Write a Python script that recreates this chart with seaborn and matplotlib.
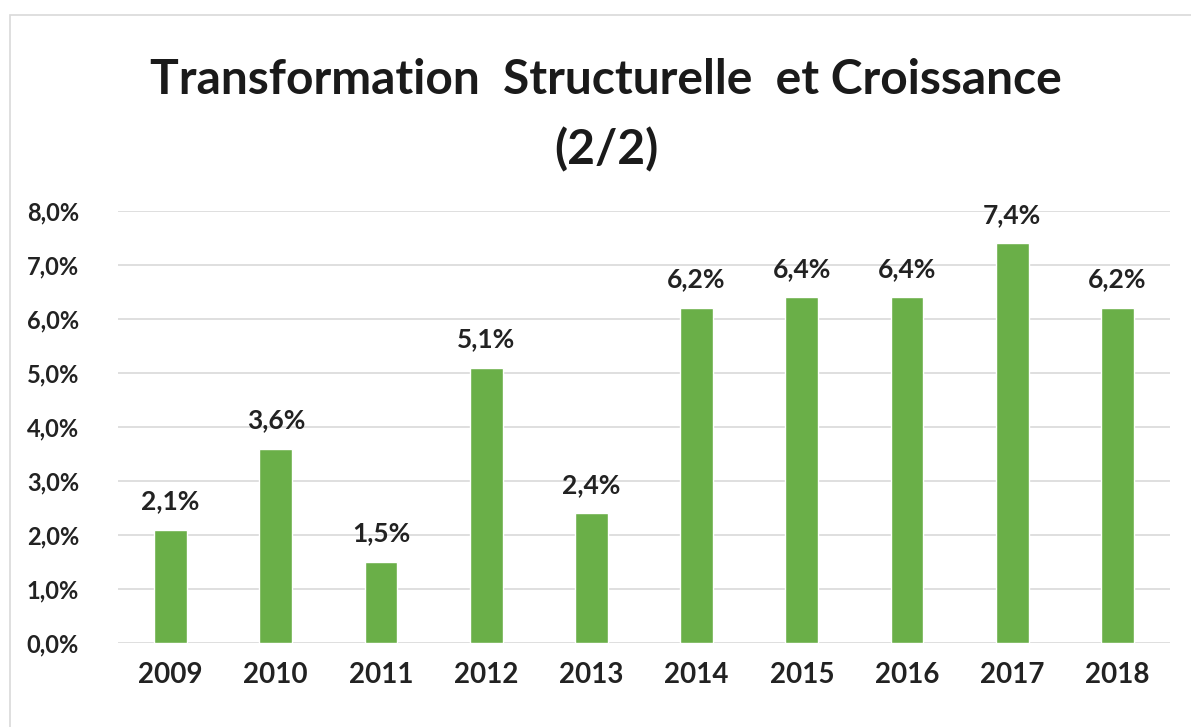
import matplotlib
matplotlib.use("Agg")
import matplotlib.pyplot as plt
import seaborn as sns
import pandas as pd
from matplotlib.patches import Rectangle

years = ["2009", "2010", "2011", "2012", "2013", "2014", "2015", "2016", "2017", "2018"]
growth = [2.1, 3.6, 1.5, 5.1, 2.4, 6.2, 6.4, 6.4, 7.4, 6.2]
yticks = [0, 1, 2, 3, 4, 5, 6, 7, 8]
title_lines = ["Transformation  Structurelle  et Croissance", "(2/2)"]

sns.set_theme(style="white")
plt.rcParams['font.family'] = ['Lato', 'DejaVu Sans']

df = pd.DataFrame({"year": years, "growth": growth})

fig = plt.figure(figsize=(11.91, 7.27), dpi=100)
fig.patches.append(Rectangle((10/1191, -0.05), 1.1, 1 - 15/727 + 0.05, transform=fig.transFigure,
                             fill=False, edgecolor="#d9d9d9", linewidth=1.2))
ax = fig.add_axes([118/1191, 1 - 643/727, 1052/1191, 432/727])

sns.barplot(data=df, x="year", y="growth", color="#6aaf48", width=0.31, ax=ax,
            saturation=1)

ax.set_ylim(0, 8)
ax.set_xlim(-0.5, 9.5)
ax.set_yticks(yticks)
ax.set_yticklabels([f"{v:.1f}%".replace(".", ",") for v in yticks])
ax.grid(axis="y", color="#d9d9d9", linewidth=1.2)
ax.set_axisbelow(True)
for s in ax.spines.values():
    s.set_visible(False)
ax.set_xlabel("")
ax.set_ylabel("")
ax.tick_params(axis="y", labelsize=17, pad=28, colors="#222222", length=0)
ax.tick_params(axis="x", labelsize=20, pad=14, colors="#222222", length=0)
for lbl in ax.get_yticklabels() + ax.get_xticklabels():
    lbl.set_fontweight("bold")

for c in ax.containers:
    ax.bar_label(c, labels=[f"{v:.1f}%".replace(".", ",") for v in growth],
                 padding=12, fontsize=19, fontweight="bold", color="#222222")

fig.text(606/1191, 1 - 80/727, title_lines[0], ha="center", va="center",
         fontsize=34.5, fontweight="bold", color="#1a1a1a")
fig.text(606/1191, 1 - 150/727, title_lines[1], ha="center", va="center",
         fontsize=34.5, fontweight="bold", color="#1a1a1a")

fig.savefig("out.png", dpi=100)
